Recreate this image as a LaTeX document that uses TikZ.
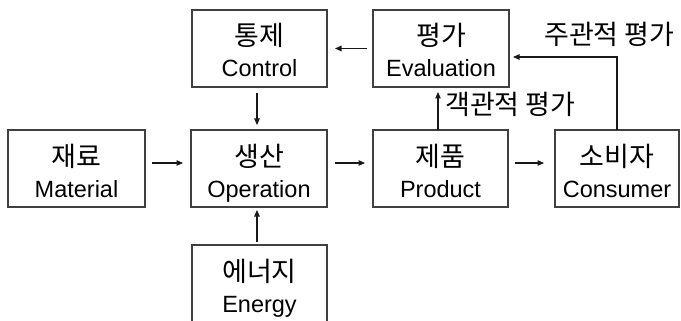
\documentclass[tikz,border=0pt]{standalone}
\usepackage{fontspec}
\setmainfont{Liberation Sans}
\newfontfamily\krfont{Noto Sans CJK KR}
\usetikzlibrary{arrows.meta}

\begin{document}
\begin{tikzpicture}[x=1pt,y=-1pt,
  box/.style={draw=black!75, line width=1.2pt, rectangle, inner sep=0pt, outer sep=0pt,
    minimum height=77pt},
  krtxt/.style={anchor=base, inner sep=0pt, font=\krfont\fontsize{27}{27}\selectfont},
  entxt/.style={anchor=base, inner sep=0pt, font=\fontsize{23.5}{23.5}\selectfont},
  arr/.style={line width=1.2pt, black!90, -{Triangle[length=6.5pt,width=5.5pt]}}
]
\useasboundingbox[fill=white] (0,0) rectangle (681,321);

% blocks
\node[box, minimum width=135pt] (ctrl) at (259.5,48.5) {};
\node[box, minimum width=136pt] (eval) at (441,48.5) {};
\node[box, minimum width=137pt] (mat)  at (76.5,168.5) {};
\node[box, minimum width=136pt] (op)   at (259,168.5) {};
\node[box, minimum width=135pt] (prod) at (440.5,168.5) {};
\node[box, minimum width=124pt] (cons) at (617,168.5) {};
\node[box, minimum width=135pt, minimum height=78pt] (enrg) at (259.5,284) {};

% block captions: Korean name over English name
\foreach \b/\k/\e in {ctrl/통제/Control, eval/평가/Evaluation, mat/재료/Material,
    op/생산/Operation, prod/제품/Product, cons/소비자/Consumer, enrg/에너지/Energy}{
  \node[krtxt] (\b-k) at ([yshift=-36pt]\b.north) {\k};
  \node[entxt] (\b-e) at ([yshift=-67pt]\b.north) {\e};
}

% flow
\draw[arr] ([xshift=-6pt]eval.west) -- ([xshift=8pt]ctrl.east);
\draw[arr] ([xshift=-2.5pt,yshift=-6pt]ctrl.south) -- ([xshift=-2pt,yshift=5pt]op.north);
\draw[arr] ([xshift=7pt,yshift=5.5pt]mat.east) -- ([xshift=-8pt,yshift=5.5pt]op.west);
\draw[arr] ([xshift=8pt,yshift=5.5pt]op.east) -- ([xshift=-8pt,yshift=5.5pt]prod.west);
\draw[arr] ([xshift=7pt,yshift=5.5pt]prod.east) -- ([xshift=-11pt,yshift=5.5pt]cons.west);
\draw[arr] ([xshift=-2.5pt,yshift=3pt]enrg.north) -- ([xshift=-2pt,yshift=-3pt]op.south);
\draw[arr] ([xshift=-2.5pt]prod.north) -- ([xshift=-3pt,yshift=-5pt]eval.south);
\draw[arr] (cons.north) |- ([xshift=4pt,yshift=-8.5pt]eval.east);

% feedback labels
\node[krtxt, anchor=base west] (objlbl) at (445,114) {객관적 평가};
\node[krtxt, anchor=base west] (subjlbl) at (544,45) {주관적 평가};
\end{tikzpicture}
\end{document}
